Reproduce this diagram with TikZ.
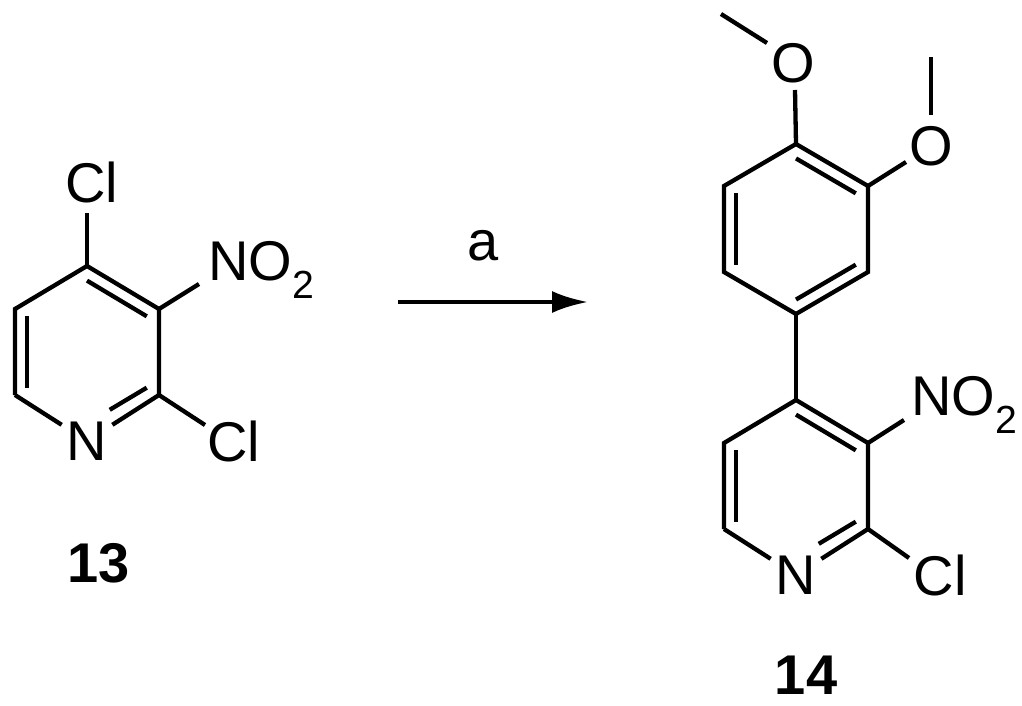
\documentclass[tikz,border=0pt]{standalone}
\usepackage{fontspec}
\setmainfont{Liberation Sans}
\usetikzlibrary{calc,arrows.meta}
\begin{document}
\begin{tikzpicture}[x=1pt,y=-1pt,line width=4.3pt,line cap=butt,
  atom/.style={font=\fontsize{56}{60}\selectfont,inner sep=3pt},
  lbl/.style={font=\bfseries\fontsize{56}{60}\selectfont,inner sep=0pt}]
\useasboundingbox (0,0) rectangle (1022,706);
% ring generator
\newcommand{\pyr}[3]{% prefix, cx, cy
  \coordinate (#1c) at (#2,#3);
  \coordinate (#1C4) at (#2,#3-86);
  \coordinate (#1C3) at (#2+72,#3-43);
  \coordinate (#1C2) at (#2+72,#3+43);
  \node[atom] (#1N) at (#2,#3+89) {N};
  \coordinate (#1Nv) at (#2,#3+86);
  \coordinate (#1C6) at (#2-72,#3+43);
  \coordinate (#1C5) at (#2-72,#3-43);
  \draw (#1C6) -- (#1C5) -- (#1C4) -- (#1C3) -- (#1C2) -- (#1N) -- (#1C6);
  \draw ($(#1C6)!0.17!(#1c)$) -- ($(#1C5)!0.17!(#1c)$);
  \draw ($(#1C4)!0.17!(#1c)$) -- ($(#1C3)!0.17!(#1c)$);
  \draw ($(#1C2)!0.17!(#1c)$) -- ($($(#1C2)!0.17!(#1c)$)!0.62!($(#1Nv)!0.17!(#1c)$)$);
}
% compound 13
\pyr{a}{87}{352}
\node[atom] (aCl4) at (92,182) {Cl};
\draw (aC4) -- (87,213);
\node[atom,anchor=west] (aNO2) at (203,270) {NO\textsubscript{2}};
\draw (aC3) -- (199,284);
\node[atom] (aCl2) at (234,441) {Cl};
\draw (aC2) -- (205,425);
\node[lbl] (l13) at (99,563) {13};
% arrow
\coordinate (ar1) at (398,302);
\coordinate (ar2) at (588,302);
\draw[-{Latex[length=36pt,width=22pt]}] (ar1) -- (ar2);
\node[atom] (ra) at (483,246) {a};
% compound 14
\pyr{b}{796}{486}
\node[atom,anchor=west] (bNO2) at (906,405) {NO\textsubscript{2}};
\draw (bC3) -- (904,420);
\node[atom] (bCl2) at (940,575) {Cl};
\draw (bC2) -- (909,558);
\node[lbl] (l14) at (806,675) {14};
% phenyl
\coordinate (pc) at (796,229);
\coordinate (p1) at (796,314);
\coordinate (p2) at (724,272);
\coordinate (p3) at (724,186);
\coordinate (p4) at (796,144);
\coordinate (p5) at (868,186);
\coordinate (p6) at (868,272);
\draw (p1) -- (p2) -- (p3) -- (p4) -- (p5) -- (p6) -- cycle;
\draw ($(p2)!0.17!(pc)$) -- ($(p3)!0.17!(pc)$);
\draw ($(p4)!0.17!(pc)$) -- ($(p5)!0.17!(pc)$);
\draw ($(p6)!0.17!(pc)$) -- ($(p1)!0.17!(pc)$);
\draw (p1) -- (bC4);
\node[atom] (O1) at (793,63) {O};
\draw (p4) -- (795,90);
\coordinate (m1) at (721,14);
\draw (767,43) -- (m1);
\node[atom] (O2) at (931,146) {O};
\draw (p5) -- (906,162);
\coordinate (m2) at (931,57);
\draw (931,115) -- (m2);
\end{tikzpicture}
\end{document}
